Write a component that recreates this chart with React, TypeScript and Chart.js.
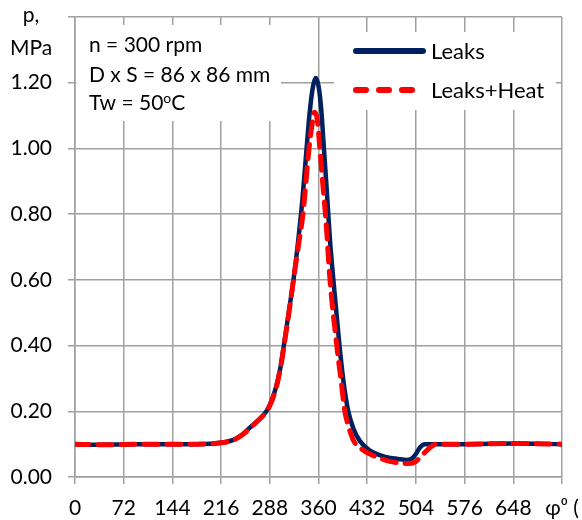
import React, { useEffect, useRef } from 'react';
import { Chart, registerables } from 'chart.js';

Chart.register(...registerables);

// ---- data ----
const leaksAngles = [0, 36, 72, 108, 144, 180, 216, 234, 248, 259, 272, 283, 289, 295, 300, 304, 308, 312, 317, 323, 330, 336, 342, 347, 352, 356, 360, 364, 368, 372, 377, 382, 391, 397, 404, 412, 421, 436, 461, 478, 490, 498, 504, 510, 517, 540, 576, 648, 720];
const leaksPressure = [0.1, 0.098, 0.099, 0.1, 0.1, 0.1, 0.104, 0.113, 0.13, 0.151, 0.175, 0.2, 0.224, 0.258, 0.297, 0.337, 0.39, 0.445, 0.515, 0.6, 0.72, 0.84, 0.99, 1.11, 1.19, 1.214, 1.19, 1.12, 1.0, 0.88, 0.72, 0.6, 0.4, 0.29, 0.2, 0.145, 0.11, 0.08, 0.06, 0.055, 0.052, 0.056, 0.07, 0.09, 0.1, 0.1, 0.1, 0.102, 0.1];

const heatAngles = [0, 36, 72, 108, 144, 180, 216, 234, 248, 259, 272, 283, 289, 295, 300, 304, 308, 312, 317, 323, 330, 337, 346, 351, 354, 358, 362, 366, 371, 377, 387, 393, 399, 405, 412, 424, 436, 461, 480, 492, 502, 508, 515, 525, 534, 576, 648, 720];
const heatPressure = [0.1, 0.098, 0.099, 0.1, 0.1, 0.1, 0.104, 0.112, 0.129, 0.15, 0.174, 0.199, 0.222, 0.255, 0.293, 0.333, 0.385, 0.44, 0.51, 0.6, 0.7, 0.8, 1.0, 1.08, 1.11, 1.09, 1.0, 0.9, 0.78, 0.6, 0.4, 0.3, 0.2, 0.15, 0.11, 0.085, 0.07, 0.05, 0.043, 0.041, 0.045, 0.055, 0.07, 0.09, 0.1, 0.1, 0.102, 0.1];

const xTickLabels = ['0', '72', '144', '216', '288', '360', '432', '504', '576', '648', 'φ⁰ ('];
const yTickLabels = ['0.00', '0.20', '0.40', '0.60', '0.80', '1.00', '1.20', ''];
const seriesNames = ['Leaks', 'Leaks+Heat'];
const yAxisTitle = ['p,', 'MPa'];
const infoLines: { t: string; sup?: boolean }[][] = [
  [{ t: 'n = 300 rpm' }],
  [{ t: 'D x S = 86 x 86 mm' }],
  [{ t: 'Tw = 50' }, { t: 'o', sup: true }, { t: 'C' }],
];

const FONT = 'Lato';
const GRID = '#a0a0a0';
const BLUE = '#002060';
const RED = '#ff0000';

const overlay = {
  id: 'overlay',
  beforeDatasetsDraw(chart: any) {
    const ctx = chart.ctx;
    ctx.save();
    ctx.fillStyle = '#ffffff';
    ctx.fillRect(76.5, 25, 204.5, 96);
    ctx.fillRect(334, 32, 222, 78);
    ctx.restore();
  },
  afterDraw(chart: any) {
    const ctx = chart.ctx;
    ctx.save();
    ctx.fillStyle = '#000';
    ctx.textBaseline = 'alphabetic';
    // y axis title
    ctx.font = `21px ${FONT}`;
    ctx.textAlign = 'center';
    ctx.fillText(yAxisTitle[0], 31, 22);
    ctx.fillText(yAxisTitle[1], 31, 55);
    // info text
    ctx.textAlign = 'left';
    const baselines = [52, 81.5, 110];
    infoLines.forEach((segs, i) => {
      let x = 89;
      segs.forEach((s) => {
        if (s.sup) {
          ctx.font = `14px ${FONT}`;
          ctx.fillText(s.t, x, baselines[i] - 7);
        } else {
          ctx.font = `21px ${FONT}`;
          ctx.fillText(s.t, x, baselines[i]);
        }
        x += ctx.measureText(s.t).width;
      });
    });
    // legend
    ctx.font = `22px ${FONT}`;
    ctx.lineCap = 'round';
    ctx.strokeStyle = BLUE;
    ctx.lineWidth = 6;
    ctx.beginPath();
    ctx.moveTo(356, 51);
    ctx.lineTo(423, 51);
    ctx.stroke();
    ctx.strokeStyle = RED;
    ctx.setLineDash([10, 13]);
    ctx.beginPath();
    ctx.moveTo(356, 90);
    ctx.lineTo(416, 90);
    ctx.stroke();
    ctx.setLineDash([]);
    ctx.fillText(seriesNames[0], 431, 59);
    ctx.fillText(seriesNames[1], 431, 98);
    ctx.restore();
  },
};

export default function App() {
  const ref = useRef<HTMLCanvasElement>(null);
  useEffect(() => {
    document.body.style.margin = '0';
    if (!ref.current) return;
    const chart = new Chart(ref.current, {
      type: 'line',
      data: {
        datasets: [
          {
            label: seriesNames[0],
            data: leaksAngles.map((a, i) => ({ x: a, y: leaksPressure[i] })),
            borderColor: BLUE,
            borderWidth: 4.5,
            pointRadius: 0,
            cubicInterpolationMode: 'monotone',
            fill: false,
            order: 1,
          },
          {
            label: seriesNames[1],
            data: heatAngles.map((a, i) => ({ x: a, y: heatPressure[i] })),
            borderColor: RED,
            borderWidth: 5,
            borderDash: [14, 9],
            borderCapStyle: 'round',
            pointRadius: 0,
            cubicInterpolationMode: 'monotone',
            fill: false,
            order: 0,
          },
        ],
      },
      options: {
        animation: false,
        responsive: false,
        layout: { padding: { top: 17, right: 20, left: 0, bottom: 0 } },
        plugins: { legend: { display: false }, tooltip: { enabled: false } },
        scales: {
          x: {
            type: 'linear',
            min: 0,
            max: 720,
            afterFit: (s: any) => {
              s.height = 43;
              s.paddingLeft = 0;
              s.paddingRight = 0;
            },
            ticks: {
              stepSize: 72,
              autoSkip: false,
              maxRotation: 0,
              padding: 12,
              color: '#000',
              font: { family: FONT, size: 21 },
              callback: (_v: any, i: number) => xTickLabels[i],
            },
            grid: { color: GRID, lineWidth: 1.5, tickLength: 7, tickColor: GRID },
            border: { color: GRID, width: 1.5 },
          },
          y: {
            type: 'linear',
            min: 0,
            max: 1.4,
            afterFit: (s: any) => {
              s.width = 75;
              s.paddingTop = 0;
              s.paddingBottom = 0;
            },
            ticks: {
              stepSize: 0.2,
              padding: 16,
              color: '#000',
              font: { family: FONT, size: 21 },
              callback: (_v: any, i: number) => yTickLabels[i],
            },
            grid: { color: GRID, lineWidth: 1.5, tickLength: 7, tickColor: GRID },
            border: { color: GRID, width: 1.5 },
          },
        },
      },
      plugins: [overlay],
    } as any);
    return () => chart.destroy();
  }, []);
  return (
    <div style={{ width: 582, height: 520, position: 'relative', background: '#fff' }}>
      <canvas ref={ref} width={582} height={520} style={{ display: 'block' }} />
    </div>
  );
}
